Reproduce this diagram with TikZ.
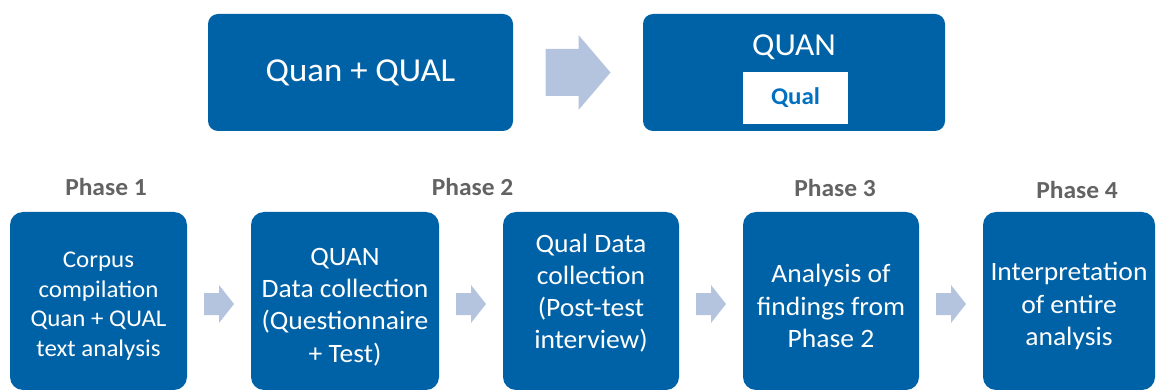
\documentclass[tikz,border=0pt]{standalone}
\usepackage{fontspec}
\setmainfont{Carlito}[FakeStretch=1.04]
\usetikzlibrary{calc}
\definecolor{boxblue}{RGB}{0,98,166}
\definecolor{arrowblue}{RGB}{180,196,222}
\definecolor{phasegray}{RGB}{99,99,99}
\definecolor{qualblue}{RGB}{0,112,192}

% block arrow centred on a coordinate:
% #1 centre, #2 half length, #3 head length, #4 head half-height, #5 shaft half-height
\newcommand\blockarrow[5]{%
  \begin{scope}[shift={(#1)}]
    \fill[arrowblue] (-#2,-#5) -- ({#2-#3},-#5) -- ({#2-#3},-#4) -- (#2,0)
      -- ({#2-#3},#4) -- ({#2-#3},#5) -- (-#2,#5) -- cycle;
  \end{scope}}

\begin{document}
\begin{tikzpicture}[x=1pt,y=-1pt,
  topbox/.style={fill=boxblue, rounded corners=10pt, text=white, align=center,
    inner sep=0pt, minimum height=117pt},
  phasebox/.style={fill=boxblue, rounded corners=13pt, inner sep=0pt,
    minimum height=178pt},
  phasetext/.style={text=white, align=center, inner sep=0pt,
    font=\fontsize{26.5}{32.2}\selectfont},
  phaselabel/.style={text=phasegray, anchor=base, inner sep=0pt,
    font=\fontsize{24.5}{29}\selectfont\bfseries}]
\useasboundingbox (0,0) rectangle (1157,390);

% design summary
\node[topbox, minimum width=305pt, font=\fontsize{33.5}{40}\selectfont]
  (t1) at (360.5,72.5) {Quan + QUAL};
\node[topbox, minimum width=302pt] (t2) at (794,72.5) {};
\node[text=white, inner sep=0pt, font=\fontsize{32}{38}\selectfont]
  (quan) at (794,47) {QUAN};
\node[fill=white, inner sep=0pt, minimum width=105pt, minimum height=52pt,
  text=qualblue, font=\fontsize{24}{29}\selectfont\bfseries]
  (qual) at (795.5,98) {Qual};
\coordinate (ta) at ($(t1.east)!0.5!(t2.west)$);
\blockarrow{ta}{32.5}{32}{37.5}{23.5}

% phase boxes
\node[phasebox, minimum width=177pt] (b1) at (98.5,301) {};
\node[phasebox, minimum width=188pt] (b2) at (345,301) {};
\node[phasebox, minimum width=176pt] (b3) at (591,301) {};
\node[phasebox, minimum width=176pt] (b4) at (831,301) {};
\node[phasebox, minimum width=172pt] (b5) at (1069,301) {};

\node[phasetext, font=\fontsize{24}{29.5}\selectfont] (b1t) at ($(b1.center)+(0,5)$)
  {Corpus\\compilation\\Quan + QUAL\\text analysis};
\node[phasetext] (b2t) at ($(b2.center)+(0,6)$)
  {QUAN\\Data collection\\(Questionnaire\\+ Test)};
\node[phasetext] (b3t) at ($(b3.center)+(0,-8)$)
  {Qual Data\\collection\\(Post-test\\interview)};
\node[phasetext] (b4t) at ($(b4.center)+(0,5)$)
  {Analysis of\\findings from\\Phase 2};
\node[phasetext] (b5t) at ($(b5.center)+(0,5)$)
  {Interpretation\\of entire\\analysis};

% phase headings
\node[phaselabel] (p1) at (106,196) {Phase 1};
\node[phaselabel] (p2) at (472.5,196) {Phase 2};
\node[phaselabel] (p3) at (835,197) {Phase 3};
\node[phaselabel] (p4) at (1077,199) {Phase 4};

% arrows between phases
\coordinate (a1) at ($(b1.east)!0.5!(b2.west)+(0,3)$);
\coordinate (a2) at ($(b2.east)!0.5!(b3.west)+(0,3)$);
\coordinate (a3) at ($(b3.east)!0.5!(b4.west)+(0,3)$);
\coordinate (a4) at ($(b4.east)!0.5!(b5.west)+(0,3)$);
\blockarrow{a1}{15}{15}{19}{11}
\blockarrow{a2}{15}{15}{19}{11}
\blockarrow{a3}{15}{15}{19}{11}
\blockarrow{a4}{15}{15}{19}{11}
\end{tikzpicture}
\end{document}
